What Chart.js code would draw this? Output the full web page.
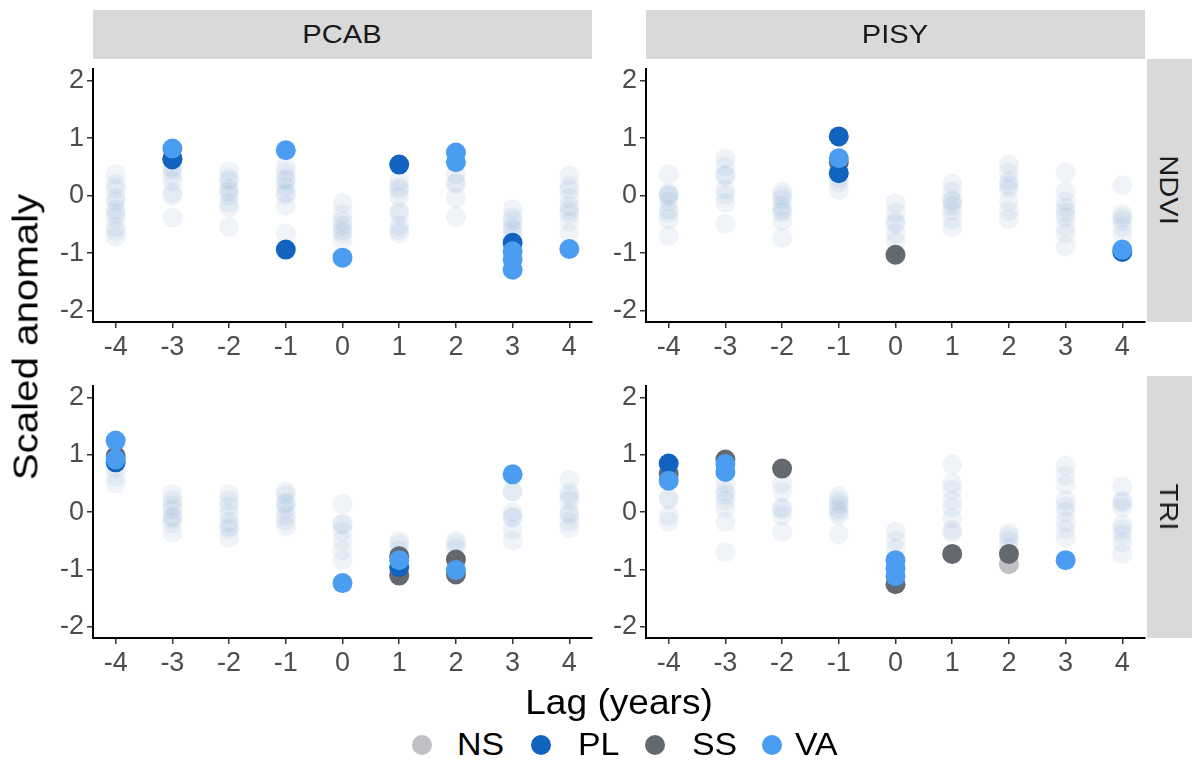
<!DOCTYPE html>
<html>
<head>
<meta charset="utf-8">
<script src="https://cdn.jsdelivr.net/npm/chart.js@4.4.1/dist/chart.umd.min.js"></script>
<style>
  body { margin: 0; width: 1192px; height: 760px; background: #fff; overflow: hidden; position: relative;
         font-family: "Liberation Sans", Arial, sans-serif; }
  canvas { position: absolute; }
  .strip { position: absolute; background: #D9D9D9; }
  .lbl { position: absolute; white-space: nowrap; line-height: 1; }
  .dot { position: absolute; width: 20px; height: 20px; border-radius: 50%; }
</style>
</head>
<body>
<canvas id="pcabNdvi"></canvas>
<canvas id="pisyNdvi"></canvas>
<canvas id="pcabTri"></canvas>
<canvas id="pisyTri"></canvas>

<div class="strip" style="left:93px;top:10px;width:499px;height:49px"></div>
<div class="strip" style="left:646px;top:10px;width:499px;height:49px"></div>
<div class="strip" style="left:1147px;top:59px;width:50px;height:263px"></div>
<div class="strip" style="left:1147px;top:376px;width:50px;height:262px"></div>

<div class="lbl" style="left:342px;top:34px;font-size:26px;color:#1A1A1A;transform:translate(-50%,-50%) scaleX(1.12)">PCAB</div>
<div class="lbl" style="left:895px;top:34px;font-size:26px;color:#1A1A1A;transform:translate(-50%,-50%) scaleX(1.12)">PISY</div>
<div class="lbl" style="left:1169px;top:190px;font-size:26px;color:#1A1A1A;transform:translate(-50%,-50%) rotate(90deg) scaleX(1.12)">NDVI</div>
<div class="lbl" style="left:1169px;top:507px;font-size:26px;color:#1A1A1A;transform:translate(-50%,-50%) rotate(90deg) scaleX(1.12)">TRI</div>

<div class="lbl" style="left:25px;top:337px;font-size:35px;color:#000;transform:translate(-50%,-50%) rotate(-90deg) scaleX(1.15)">Scaled anomaly</div>
<div class="lbl" style="left:619px;top:701px;font-size:35px;color:#000;transform:translate(-50%,-50%) scaleX(1.06)">Lag (years)</div>

<div id="legend"></div>

<script>
// categories / ticks
const lagTicks = [-4, -3, -2, -1, 0, 1, 2, 3, 4];
const yTicks = [-2, -1, 0, 1, 2];
const groups = ['NS', 'PL', 'SS', 'VA'];
const groupColors = ['#BEC0C5', '#1262BF', '#646970', '#4A9DF0'];

// highlighted points: [lag, scaled anomaly]
const pcabNdviNS = [];
const pcabNdviPL = [[-3, 0.63], [-1, -0.94], [1, 0.54], [3, -0.82]];
const pcabNdviSS = [[-3, 0.65]];
const pcabNdviVA = [[-3, 0.82], [-1, 0.79], [0, -1.08], [2, 0.75], [2, 0.58], [3, -0.97], [3, -1.11], [3, -1.29], [4, -0.93]];

const pisyNdviNS = [];
const pisyNdviPL = [[-1, 1.03], [-1, 0.39], [4, -0.98]];
const pisyNdviSS = [[-1, 0.58], [0, -1.03]];
const pisyNdviVA = [[-1, 0.65], [4, -0.94]];

const pcabTriNS = [];
const pcabTriPL = [[-4, 0.87], [1, -0.96]];
const pcabTriSS = [[-4, 0.98], [1, -0.77], [1, -1.11], [2, -0.83], [2, -1.09]];
const pcabTriVA = [[-4, 1.25], [-4, 0.92], [0, -1.24], [1, -0.84], [2, -1.01], [3, 0.66]];

const pisyTriNS = [[2, -0.91]];
const pisyTriPL = [[-4, 0.85]];
const pisyTriSS = [[-4, 0.67], [-3, 0.92], [-2, 0.76], [0, -1.26], [1, -0.73], [2, -0.73]];
const pisyTriVA = [[-4, 0.55], [-3, 0.84], [-3, 0.7], [0, -0.84], [0, -0.98], [0, -1.12], [3, -0.84]];

// faded (non-highlighted) points, one list per lag from -4 to 4
const pcabNdviFaded = [
  [0.37, 0.2, 0.12, -0.04, -0.1, -0.24, -0.3, -0.38, -0.55, -0.62, -0.72],
  [0.5, 0.45, 0.35, 0.25, 0.05, 0.0, -0.38],
  [0.43, 0.3, 0.26, 0.12, 0.07, 0.0, -0.13, -0.21, -0.55],
  [0.51, 0.4, 0.3, 0.26, 0.15, 0.05, 0.01, -0.18, -0.66],
  [-0.13, -0.32, -0.44, -0.52, -0.6, -0.66, -0.77],
  [0.26, 0.15, 0.1, -0.02, -0.27, -0.32, -0.52, -0.6, -0.66],
  [0.37, 0.23, 0.2, -0.04, -0.37],
  [-0.24, -0.38, -0.44, -0.55, -0.6, -0.69],
  [0.35, 0.18, 0.1, -0.04, -0.18, -0.25, -0.32, -0.45, -0.66]
];
const pisyNdviFaded = [
  [0.37, 0.04, 0.02, 0.0, -0.1, -0.24, -0.3, -0.41, -0.7],
  [0.65, 0.51, 0.36, 0.34, 0.1, 0.01, -0.13, -0.49],
  [0.07, 0.0, -0.07, -0.18, -0.25, -0.3, -0.44, -0.74],
  [0.3, 0.23, 0.1],
  [-0.13, -0.3, -0.45, -0.49, -0.66, -0.8],
  [0.21, 0.07, -0.07, -0.1, -0.18, -0.27, -0.41, -0.55],
  [0.54, 0.4, 0.25, 0.18, 0.12, -0.1, -0.27, -0.41],
  [0.4, 0.07, -0.1, -0.21, -0.3, -0.38, -0.55, -0.66, -0.88],
  [0.18, -0.32, -0.38, -0.44, -0.55, -0.69]
];
const pcabTriFaded = [
  [0.76, 0.62, 0.5],
  [0.31, 0.2, 0.11, 0.05, -0.08, -0.11, -0.2, -0.36],
  [0.31, 0.2, 0.1, -0.03, -0.17, -0.25, -0.3, -0.45],
  [0.36, 0.3, 0.17, 0.14, 0.05, -0.06, -0.15, -0.25],
  [0.14, -0.2, -0.22, -0.34, -0.5, -0.67, -0.84],
  [-0.5, -0.56, -0.67],
  [-0.5, -0.56, -0.64],
  [0.36, 0.36, 0.0, -0.08, -0.1, -0.31, -0.5],
  [0.56, 0.34, 0.28, 0.2, 0.0, -0.05, -0.17, -0.28]
];
const pisyTriFaded = [
  [0.25, 0.22, -0.06, -0.17],
  [0.5, 0.36, 0.3, 0.2, 0.06, -0.17, -0.7],
  [0.5, 0.36, 0.08, 0.05, -0.06, -0.34],
  [0.28, 0.2, 0.14, 0.06, 0.0, -0.06, -0.39],
  [-0.34, -0.5, -0.64],
  [0.83, 0.5, 0.39, 0.2, 0.08, -0.11, -0.31, -0.36],
  [-0.36, -0.42, -0.5, -0.62],
  [0.81, 0.64, 0.48, 0.2, 0.1, 0.0, -0.17, -0.3, -0.45],
  [0.45, 0.2, 0.17, 0.08, -0.22, -0.3, -0.39, -0.53, -0.73]
];

const fadedColor = 'rgba(80,130,185,0.085)';

function toPoints(pairs) {
  return pairs.map(p => ({ x: p[0], y: p[1] }));
}

function fadedPoints(perLag) {
  const pts = [];
  perLag.forEach((vals, i) => vals.forEach(v => pts.push({ x: lagTicks[i], y: v })));
  return pts;
}

function buildDatasets(faded, ns, pl, ss, va) {
  const dot = { pointRadius: 10, pointHoverRadius: 10, borderWidth: 0, pointBorderWidth: 0 };
  return [
    Object.assign({ label: 'faded', data: fadedPoints(faded), backgroundColor: fadedColor, order: 10 }, dot),
    Object.assign({ label: 'NS', data: toPoints(ns), backgroundColor: groupColors[0], order: 4 }, dot),
    Object.assign({ label: 'SS', data: toPoints(ss), backgroundColor: groupColors[2], order: 3 }, dot),
    Object.assign({ label: 'PL', data: toPoints(pl), backgroundColor: groupColors[1], order: 2 }, dot),
    Object.assign({ label: 'VA', data: toPoints(va), backgroundColor: groupColors[3], order: 1 }, dot)
  ];
}

function axisOpts(min, max, tickVals, fit) {
  return {
    type: 'linear',
    min: min,
    max: max,
    afterBuildTicks: s => { s.ticks = tickVals.map(v => ({ value: v })); },
    afterFit: fit,
    ticks: { color: '#4D4D4D', font: { size: 27, family: '"Liberation Sans", Arial, sans-serif' }, padding: 3 },
    grid: { display: true, drawOnChartArea: false, drawTicks: true, tickLength: 6, color: '#333', lineWidth: 1.5 },
    border: { display: true, color: '#000', width: 2 }
  };
}

function makePanel(id, area, datasets) {
  const padL = 60, padT = 10, padR = 10, padB = 45;
  const cv = document.getElementById(id);
  const w = area.r - area.l + padL + padR;
  const h = area.b - area.t + padT + padB;
  cv.width = w; cv.height = h;
  cv.style.width = w + 'px'; cv.style.height = h + 'px';
  cv.style.left = (area.l - padL) + 'px';
  cv.style.top = (area.t - padT) + 'px';
  new Chart(cv, {
    type: 'scatter',
    data: { datasets: datasets },
    options: {
      responsive: false,
      animation: false,
      devicePixelRatio: 1,
      layout: { padding: { top: padT, right: padR, left: 0, bottom: 0 } },
      plugins: { legend: { display: false }, tooltip: { enabled: false } },
      scales: {
        x: axisOpts(-4.4, 4.4, lagTicks, s => { s.height = padB; }),
        y: axisOpts(-2.2, 2.2, yTicks, s => { s.width = padL; })
      }
    }
  });
}

makePanel('pcabNdvi', { l: 93, r: 592, t: 59.5, b: 322 }, buildDatasets(pcabNdviFaded, pcabNdviNS, pcabNdviPL, pcabNdviSS, pcabNdviVA));
makePanel('pisyNdvi', { l: 646, r: 1145, t: 59.5, b: 322 }, buildDatasets(pisyNdviFaded, pisyNdviNS, pisyNdviPL, pisyNdviSS, pisyNdviVA));
makePanel('pcabTri', { l: 93, r: 592, t: 376.5, b: 638 }, buildDatasets(pcabTriFaded, pcabTriNS, pcabTriPL, pcabTriSS, pcabTriVA));
makePanel('pisyTri', { l: 646, r: 1145, t: 376.5, b: 638 }, buildDatasets(pisyTriFaded, pisyTriNS, pisyTriPL, pisyTriSS, pisyTriVA));

// legend at the bottom
const legendDotX = [421.7, 541, 655, 772.3];
const legendTextX = [457.3, 578.3, 691.7, 795];
const legend = document.getElementById('legend');
groups.forEach((g, i) => {
  const d = document.createElement('div');
  d.className = 'dot';
  d.style.left = (legendDotX[i] - 10) + 'px';
  d.style.top = '735px';
  d.style.background = groupColors[i];
  legend.appendChild(d);
  const t = document.createElement('div');
  t.className = 'lbl';
  t.textContent = g;
  t.style.left = legendTextX[i] + 'px';
  t.style.top = '744px';
  t.style.fontSize = '32px';
  t.style.transform = 'translateY(-50%) scaleX(1.06)';
  t.style.transformOrigin = 'left center';
  legend.appendChild(t);
});
</script>
</body>
</html>
